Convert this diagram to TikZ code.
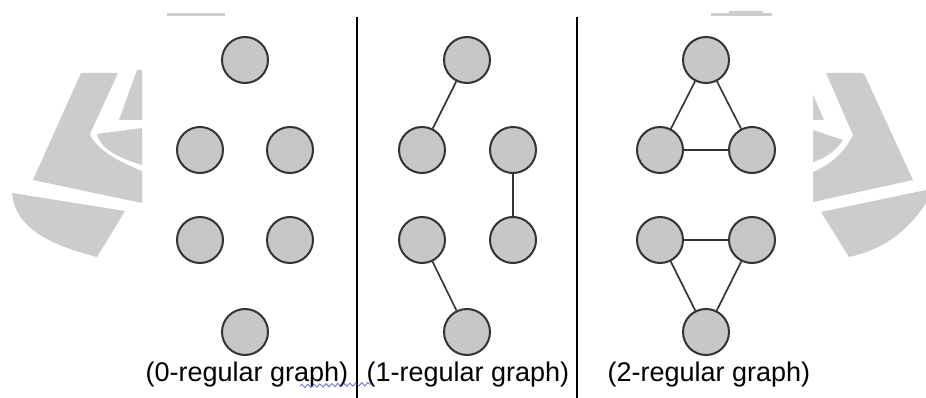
\documentclass[tikz,border=0pt]{standalone}
\usepackage{fontspec}
\setmainfont{Liberation Sans}
\usetikzlibrary{decorations.pathmorphing}
\tikzset{
  vtx/.style={circle, draw=black!80, line width=2pt, fill=black!22, minimum size=46pt, inner sep=0pt},
  edg/.style={draw=black!80, line width=1.6pt},
  divider/.style={draw=black, line width=1.6pt},
  wm/.style={fill=black!20, draw=none},
  lbl/.style={font=\fontsize{27}{32}\selectfont, anchor=base, inner sep=0pt},
}
\begin{document}
\begin{tikzpicture}[x=1pt,y=-1pt]
\useasboundingbox (0,0) rectangle (926,398);
\fill[white] (0,0) rectangle (926,398);
% watermark left
\path[wm] (81,73) -- (118,73) -- (90,134) .. controls (95,148) and (115,160) .. (142,171) -- (142,203) -- (33,180) -- cycle;
\path[wm] (137,70) -- (142,70) -- (142,120) -- (119,120) -- cycle;
\path[wm] (97,134) -- (142,128) -- (142,165) .. controls (118,158) and (100,148) .. cycle;
\path[wm] (12,193) -- (125,211) -- (97,257) .. controls (50,245) and (15,228) .. cycle;
\path[wm] (167,13) rectangle (225,16);
% watermark right
\path[wm] (826,73) -- (860,73) .. controls (864,73) and (866,76) .. (867,80) -- (913,180) -- (813,202) -- (813,172) .. controls (830,165) and (845,152) .. (853,135) -- cycle;
\path[wm] (813,95) -- (824,120) -- (813,120) -- cycle;
\path[wm] (813,130) -- (843,140) .. controls (835,152) and (825,158) .. (813,162) -- cycle;
\path[wm] (821,212) -- (926,190) -- (926,203) .. controls (905,235) and (880,250) .. (849,257) -- cycle;
\path[wm] (711,13) rectangle (772,16);
\path[wm] (729,11) rectangle (763,16);
% dividers
\coordinate (d1t) at (357,17); \coordinate (d1b) at (357,398);
\coordinate (d2t) at (577,17); \coordinate (d2b) at (577,398);
\draw[divider] (d1t) -- (d1b);
\draw[divider] (d2t) -- (d2b);
% panel 1: 0-regular
\node[vtx] (a1) at (245,60) {};
\node[vtx] (a2) at (200,150) {};
\node[vtx] (a3) at (290,150) {};
\node[vtx] (a4) at (200,240) {};
\node[vtx] (a5) at (290,240) {};
\node[vtx] (a6) at (245,332) {};
% panel 2: 1-regular
\node[vtx] (b1) at (467,60) {};
\node[vtx] (b2) at (422,150) {};
\node[vtx] (b3) at (513,150) {};
\node[vtx] (b4) at (422,240) {};
\node[vtx] (b5) at (513,240) {};
\node[vtx] (b6) at (467,332) {};
\draw[edg] (b1) -- (b2);
\draw[edg] (b3) -- (b5);
\draw[edg] (b4) -- (b6);
% panel 3: 2-regular
\node[vtx] (c1) at (706,60) {};
\node[vtx] (c2) at (660,150) {};
\node[vtx] (c3) at (752,150) {};
\node[vtx] (c4) at (660,240) {};
\node[vtx] (c5) at (752,240) {};
\node[vtx] (c6) at (706,332) {};
\draw[edg] (c1) -- (c2);
\draw[edg] (c1) -- (c3);
\draw[edg] (c2) -- (c3);
\draw[edg] (c4) -- (c5);
\draw[edg] (c4) -- (c6);
\draw[edg] (c5) -- (c6);
% labels
\node[lbl] (l1) at (247,381) {(0-regular graph)};
\node[lbl] (l2) at (468,381) {(1-regular graph)};
\node[lbl] (l3) at (709,381) {(2-regular graph)};
% spell-check squiggle
\coordinate (s1) at (300,386); \coordinate (s2) at (372,384);
\draw[blue!55!gray, line width=0.9pt, opacity=0.7, decorate, decoration={snake, amplitude=1.6pt, segment length=6pt}] (s1) -- (s2);
\end{tikzpicture}
\end{document}
